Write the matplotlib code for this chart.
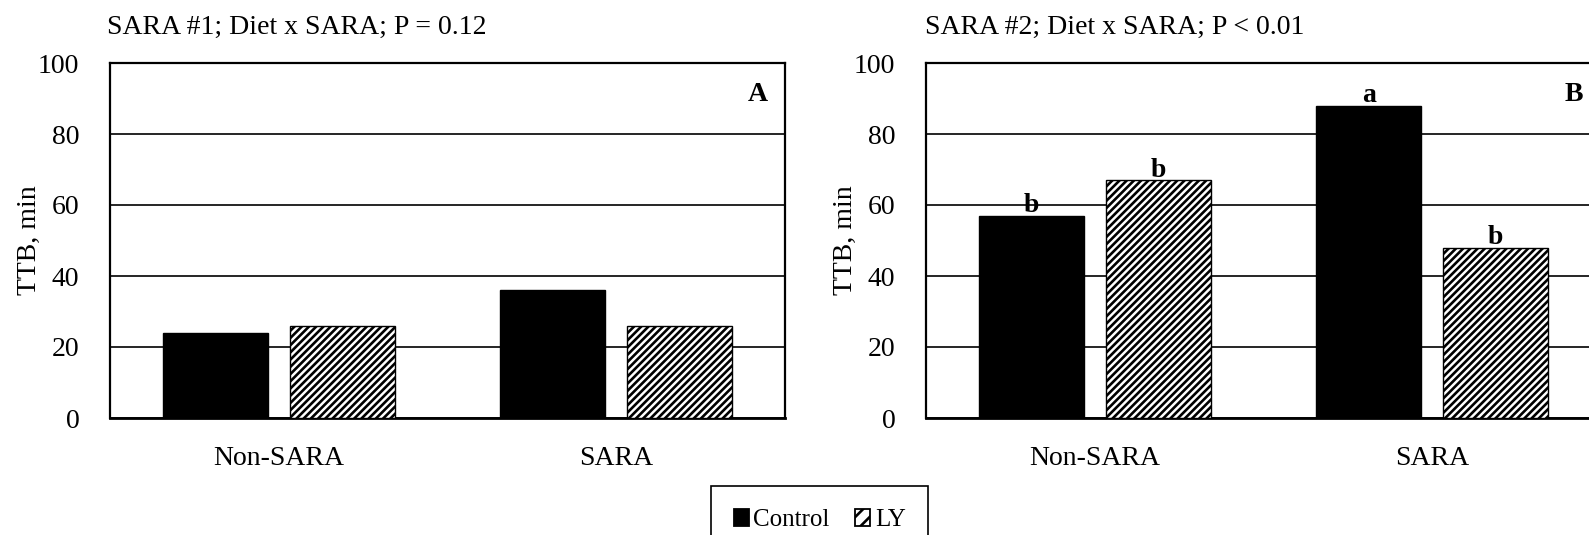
import matplotlib
matplotlib.use("Agg")
import matplotlib.pyplot as plt
import numpy as np
from matplotlib.patches import Patch

DPI = 130
PT = 100 / DPI  # sizes below are written for 100 dpi and scaled by this

plt.rcParams['font.family'] = ['Liberation Serif', 'DejaVu Serif']
plt.rcParams['hatch.linewidth'] = 1.9 * PT
HATCH = '//////'

# TTB (min) by SARA challenge and diet
groups = ['Non-SARA', 'SARA']
treatments = ['Control', 'LY']
sara1_control = [24, 36]
sara1_ly = [26, 26]
sara2_control = [57, 88]
sara2_ly = [67, 48]
sara2_letters_control = ['b', 'a']
sara2_letters_ly = ['b', 'b']

titles = ['SARA #1; Diet x SARA; P = 0.12', 'SARA #2; Diet x SARA; P < 0.01']
panel_tags = ['A', 'B']

W, H = 1589, 535
fig = plt.figure(figsize=(W / DPI, H / DPI), dpi=DPI)

ax_w = 675 / W
ax_h = 355 / H
ax_b = (H - 418) / H
ax1 = fig.add_axes([110 / W, ax_b, ax_w, ax_h])
ax2 = fig.add_axes([926 / W, ax_b, ax_w, ax_h])

x = np.arange(len(groups))
bw = 0.31
off = 0.188
fs = 20 * PT


def draw_panel(ax, ctrl, ly, title, tag, left_px):
    ax.set_axisbelow(True)
    ax.bar(x - off, ctrl, bw, color='black', edgecolor='black',
           linewidth=1 * PT, zorder=3)
    ax.bar(x + off, ly, bw, color='white', edgecolor='black', hatch=HATCH,
           linewidth=1 * PT, zorder=3)
    ax.set_xlim(-0.5, 1.5)
    ax.set_ylim(0, 100)
    ax.set_yticks(range(0, 101, 20))
    ax.set_xticks(x)
    ax.set_xticklabels(groups, fontsize=fs)
    ax.tick_params(axis='y', length=0, pad=22 * PT, labelsize=fs)
    ax.tick_params(axis='x', length=0, pad=20 * PT)
    ax.yaxis.grid(True, color='black', linewidth=1.2 * PT)
    for s in ax.spines.values():
        s.set_linewidth(1.6 * PT)
        s.set_color('black')
    ax.spines['bottom'].set_linewidth(2 * PT)
    ax.set_ylabel('TTB, min', fontsize=fs)
    ax.yaxis.set_label_coords(-68 / 675, 0.5)
    ax.text(1 - 27 / 675, 1 - 31 / 355, tag, transform=ax.transAxes,
            ha='center', va='center', fontsize=fs, fontweight='bold')
    fig.text(left_px / W, 1 - 27 / H, title, ha='left', va='center', fontsize=fs)


draw_panel(ax1, sara1_control, sara1_ly, titles[0], panel_tags[0], 107)
draw_panel(ax2, sara2_control, sara2_ly, titles[1], panel_tags[1], 925)

# mean separation letters for SARA #2
for i in range(len(groups)):
    ax2.text(x[i] - off, sara2_control[i] + 1.0, sara2_letters_control[i],
             ha='center', va='baseline', fontsize=fs, fontweight='bold')
    ax2.text(x[i] + off, sara2_ly[i] + 1.0, sara2_letters_ly[i],
             ha='center', va='baseline', fontsize=fs, fontweight='bold')

handles = [Patch(facecolor='black', edgecolor='black', label=treatments[0]),
           Patch(facecolor='white', edgecolor='black', hatch='///', label=treatments[1])]
leg = fig.legend(handles=handles, ncol=2, loc='upper left',
                 bbox_to_anchor=(711 / W, 1 - 486 / H), fontsize=18 * PT,
                 frameon=True, fancybox=False, edgecolor='black', framealpha=1,
                 borderpad=0.9, handlelength=0.6, handleheight=0.7,
                 handletextpad=0.2, columnspacing=1.0, borderaxespad=0)
leg.get_frame().set_linewidth(1.2 * PT)

fig.savefig('out.png', dpi=DPI)
